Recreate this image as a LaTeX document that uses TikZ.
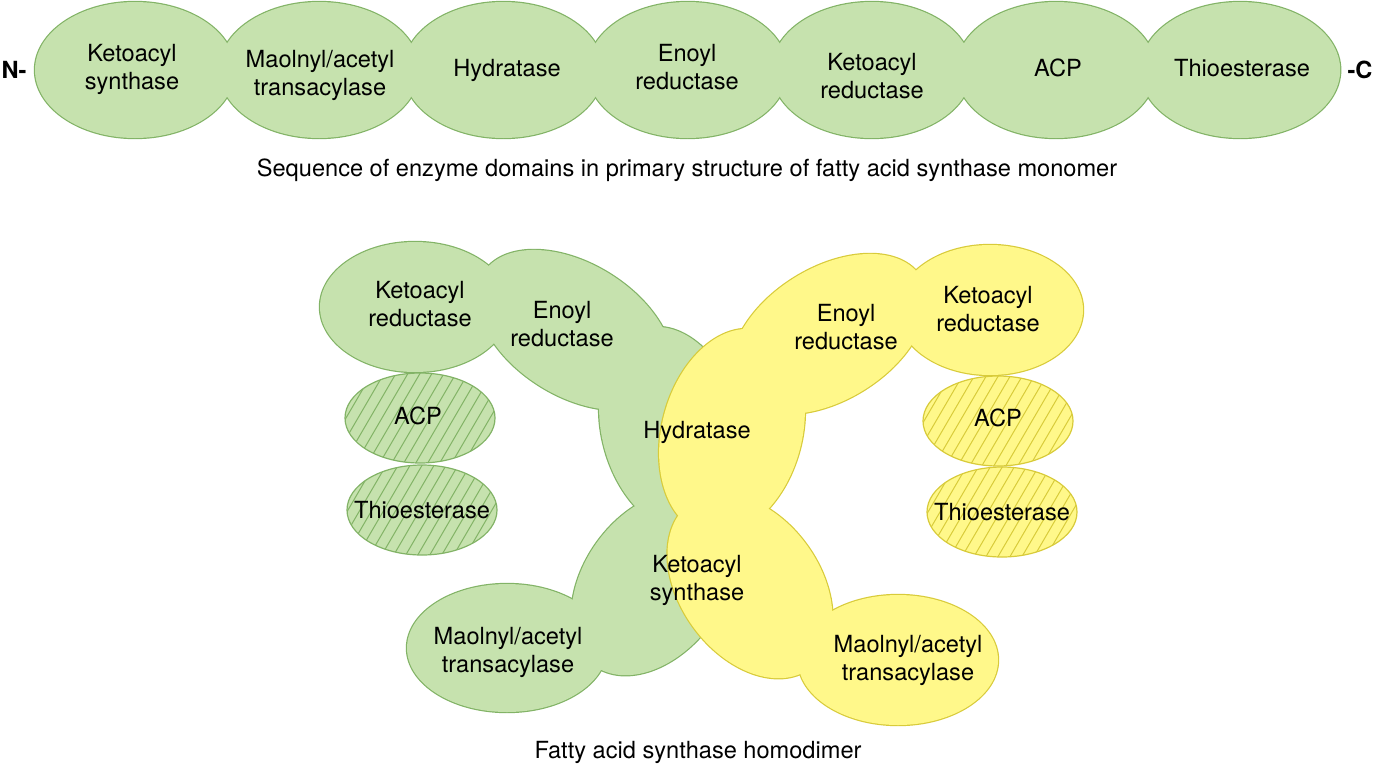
\documentclass[tikz,border=0pt]{standalone}
\usepackage{fontspec}
\setmainfont{TeX Gyre Heros}
\definecolor{gfill}{HTML}{C6E2AE}
\definecolor{gline}{HTML}{82B366}
\definecolor{yfill}{HTML}{FFF88A}
\definecolor{yline}{HTML}{D8CB3A}
\tikzset{
  lbl/.style={align=center,font=\fontsize{23.6}{28}\selectfont,inner sep=0pt},
  bold/.style={font=\fontsize{23.6}{28}\selectfont\bfseries,inner sep=0pt},
  gedge/.style={draw=gline,line width=2.4pt},
  yedge/.style={draw=yline,line width=2.4pt},
  ghatch/.style={draw=gline,line width=1pt},
  yhatch/.style={draw=yline,line width=1pt},
}
\def\greenlist{415/307/95/65/0, 575/330/108/66/-32, 672/430/70/105/15, 654/583/102/70/54, 507/648/100/64/0}
\def\yellowlist{990/310/93/65/0, 829/334/108/66/32, 732/432/70/105/-15, 750/586/102/70/-54, 898/660/100/65/0}
\begin{document}
\begin{tikzpicture}[x=1pt,y=1pt]
\useasboundingbox (0,0) rectangle (1375,-769);
% ---- monomer row ----
\foreach \i in {0,...,6} {
  \draw[gedge] (135+184.2*\i,-70) ellipse [x radius=100,y radius=68];
}
\foreach \i in {0,...,6} {
  \fill[gfill] (135+184.2*\i,-70) ellipse [x radius=100,y radius=68];
}
\node[bold] (N) at (14,-70) {N-};
\node[bold] (C) at (1360,-70) {-C};
\node[lbl] (m1) at (132,-69) {Ketoacyl\\synthase};
\node[lbl] (m2) at (320,-75) {Maolnyl/acetyl\\transacylase};
\node[lbl] (m3) at (507,-70) {Hydratase};
\node[lbl] (m4) at (687,-67) {Enoyl\\reductase};
\node[lbl] (m5) at (872,-76) {Ketoacyl\\reductase};
\node[lbl] (m6) at (1058,-68) {ACP};
\node[lbl] (m7) at (1242,-68) {Thioesterase};
\node[lbl] (cap1) at (687,-170) {Sequence of enzyme domains in primary structure of fatty acid synthase monomer};
% ---- dimer: green ----
\foreach \x/\y/\a/\b/\r in \greenlist {
  \draw[gedge,shift={(\x,-\y)},rotate=\r] (0,0) ellipse [x radius=\a,y radius=\b];
}
\foreach \x/\y/\a/\b/\r in \greenlist {
  \fill[gfill,shift={(\x,-\y)},rotate=\r] (0,0) ellipse [x radius=\a,y radius=\b];
}
% ---- dimer: yellow ----
\foreach \x/\y/\a/\b/\r in \yellowlist {
  \draw[yedge,shift={(\x,-\y)},rotate=\r] (0,0) ellipse [x radius=\a,y radius=\b];
}
\foreach \x/\y/\a/\b/\r in \yellowlist {
  \fill[yfill,shift={(\x,-\y)},rotate=\r] (0,0) ellipse [x radius=\a,y radius=\b];
}
% ---- hatched domains ----
\foreach \x/\y/\c/\h in {420/418/gfill/ghatch, 422/510/gfill/ghatch, 998/421/yfill/yhatch, 1002/512/yfill/yhatch} {
  \begin{scope}[shift={(\x,-\y)}]
    \fill[\c] (0,0) ellipse [x radius=75,y radius=45];
    \begin{scope}
      \clip (0,0) ellipse [x radius=75,y radius=45];
      \foreach \k in {-110,-98,...,110} {
        \draw[\h] (\k-28,-48) -- (\k+28,48);
      }
    \end{scope}
  \end{scope}
}
\foreach \x/\y in {420/418, 422/510} {
  \draw[gline,line width=1.2pt] (\x,-\y) ellipse [x radius=75,y radius=45];
}
\foreach \x/\y in {998/421, 1002/512} {
  \draw[yline,line width=1.2pt] (\x,-\y) ellipse [x radius=75,y radius=45];
}
% ---- labels ----
\node[lbl] (gkr) at (420,-304) {Ketoacyl\\reductase};
\node[lbl] (ger) at (562,-324) {Enoyl\\reductase};
\node[lbl] (gacp) at (418,-416) {ACP};
\node[lbl] (gte) at (422,-510) {Thioesterase};
\node[lbl] (gh) at (697,-432) {Hydratase};
\node[lbl] (gks) at (697,-580) {Ketoacyl\\synthase};
\node[lbl] (gmt) at (508,-652) {Maolnyl/acetyl\\transacylase};
\node[lbl] (yer) at (846,-327) {Enoyl\\reductase};
\node[lbl] (ykr) at (988,-309) {Ketoacyl\\reductase};
\node[lbl] (yacp) at (998,-418) {ACP};
\node[lbl] (yte) at (1002,-512) {Thioesterase};
\node[lbl] (ymt) at (908,-660) {Maolnyl/acetyl\\transacylase};
\node[lbl] (cap2) at (698,-752) {Fatty acid synthase homodimer};
\end{tikzpicture}
\end{document}
